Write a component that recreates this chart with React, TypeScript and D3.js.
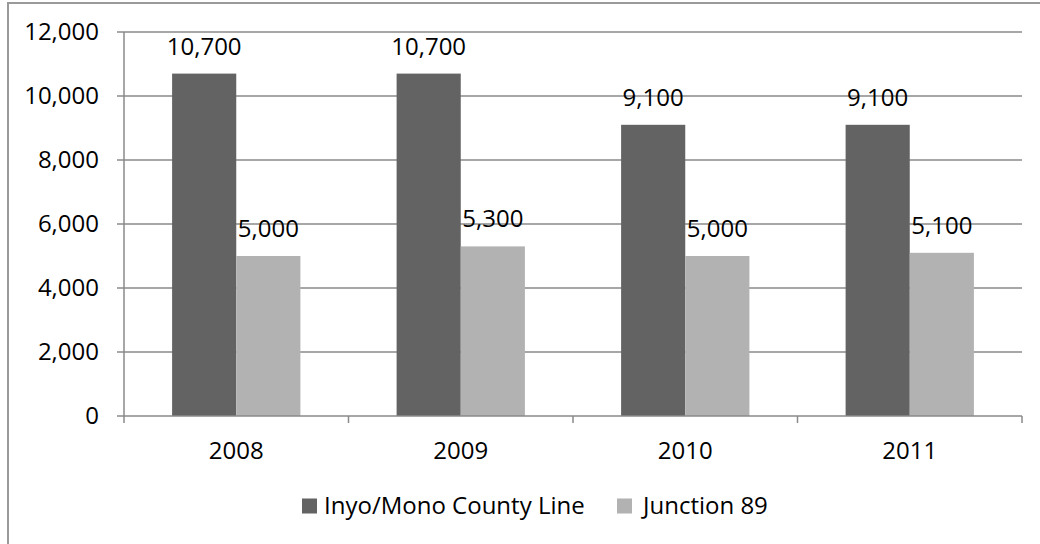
import React from "react";
import * as d3 from "d3";

const categories = ["2008", "2009", "2010", "2011"];
const seriesNames = ["Inyo/Mono County Line", "Junction 89"];
const inyoMono = [10700, 10700, 9100, 9100];
const junction89 = [5000, 5300, 5000, 5100];
const yTicks = [0, 2000, 4000, 6000, 8000, 10000, 12000];
const colors = ["#636363", "#b2b2b2"];

const W = 1040;
const H = 544;
const left = 124;
const right = 1022;
const top = 32;
const bottom = 416;
const FONT = "'Open Sans', sans-serif";
const FS = 24;

export default function App() {
  const x = d3.scaleBand<string>().domain(categories).range([left, right]).paddingInner(0).paddingOuter(0);
  const bw = x.bandwidth();
  const barW = bw / 3.5;
  const y = d3.scaleLinear().domain([0, 12000]).range([bottom, top]);
  const fmt = d3.format(",");
  const series = [inyoMono, junction89];
  const boundaries = [...categories.map((c) => x(c) as number), right];

  return (
    <svg width={W} height={H} style={{ position: "absolute", left: 0, top: 0, background: "#fff" }} fontFamily={FONT}>
      <rect x={8} y={3} width={W + 20} height={H + 20} fill="#fff" stroke="#9a9a9a" strokeWidth={2} />
      {yTicks.map((t) => (
        <g key={t}>
          {t > 0 && <line x1={left} x2={right} y1={y(t)} y2={y(t)} stroke="#8a8a8a" strokeWidth={1.5} />}
          <line x1={left - 7} x2={left} y1={y(t)} y2={y(t)} stroke="#8a8a8a" strokeWidth={1.5} />
          <text x={99} y={y(t)} dy="0.35em" textAnchor="end" fontSize={FS} fill="#000">
            {fmt(t)}
          </text>
        </g>
      ))}
      {categories.map((c, i) =>
        series.map((s, j) => {
          const bx = (x(c) as number) + bw / 2 - barW + j * barW;
          return (
            <g key={c + j}>
              <rect x={bx} y={y(s[i])} width={barW} height={bottom - y(s[i])} fill={colors[j]} />
              <text x={bx + barW / 2} y={y(s[i]) - 19} textAnchor="middle" fontSize={FS} fill="#000">
                {fmt(s[i])}
              </text>
            </g>
          );
        })
      )}
      <line x1={left} x2={left} y1={top} y2={bottom} stroke="#8a8a8a" strokeWidth={1.5} />
      <line x1={left} x2={right} y1={bottom} y2={bottom} stroke="#8a8a8a" strokeWidth={1.5} />
      {boundaries.map((b, i) => (
        <line key={i} x1={b} x2={b} y1={bottom} y2={bottom + 7} stroke="#8a8a8a" strokeWidth={1.5} />
      ))}
      {categories.map((c) => (
        <text key={c} x={(x(c) as number) + bw / 2} y={458.5} textAnchor="middle" fontSize={FS} fill="#000">
          {c}
        </text>
      ))}
      {seriesNames.map((n, j) => {
        const lx = j === 0 ? 302 : 617;
        return (
          <g key={n}>
            <rect x={lx} y={498.5} width={15} height={15} fill={colors[j]} />
            <text x={lx + (j === 0 ? 22 : 26)} y={506} dy="0.35em" fontSize={FS} fill="#000">
              {n}
            </text>
          </g>
        );
      })}
    </svg>
  );
}
